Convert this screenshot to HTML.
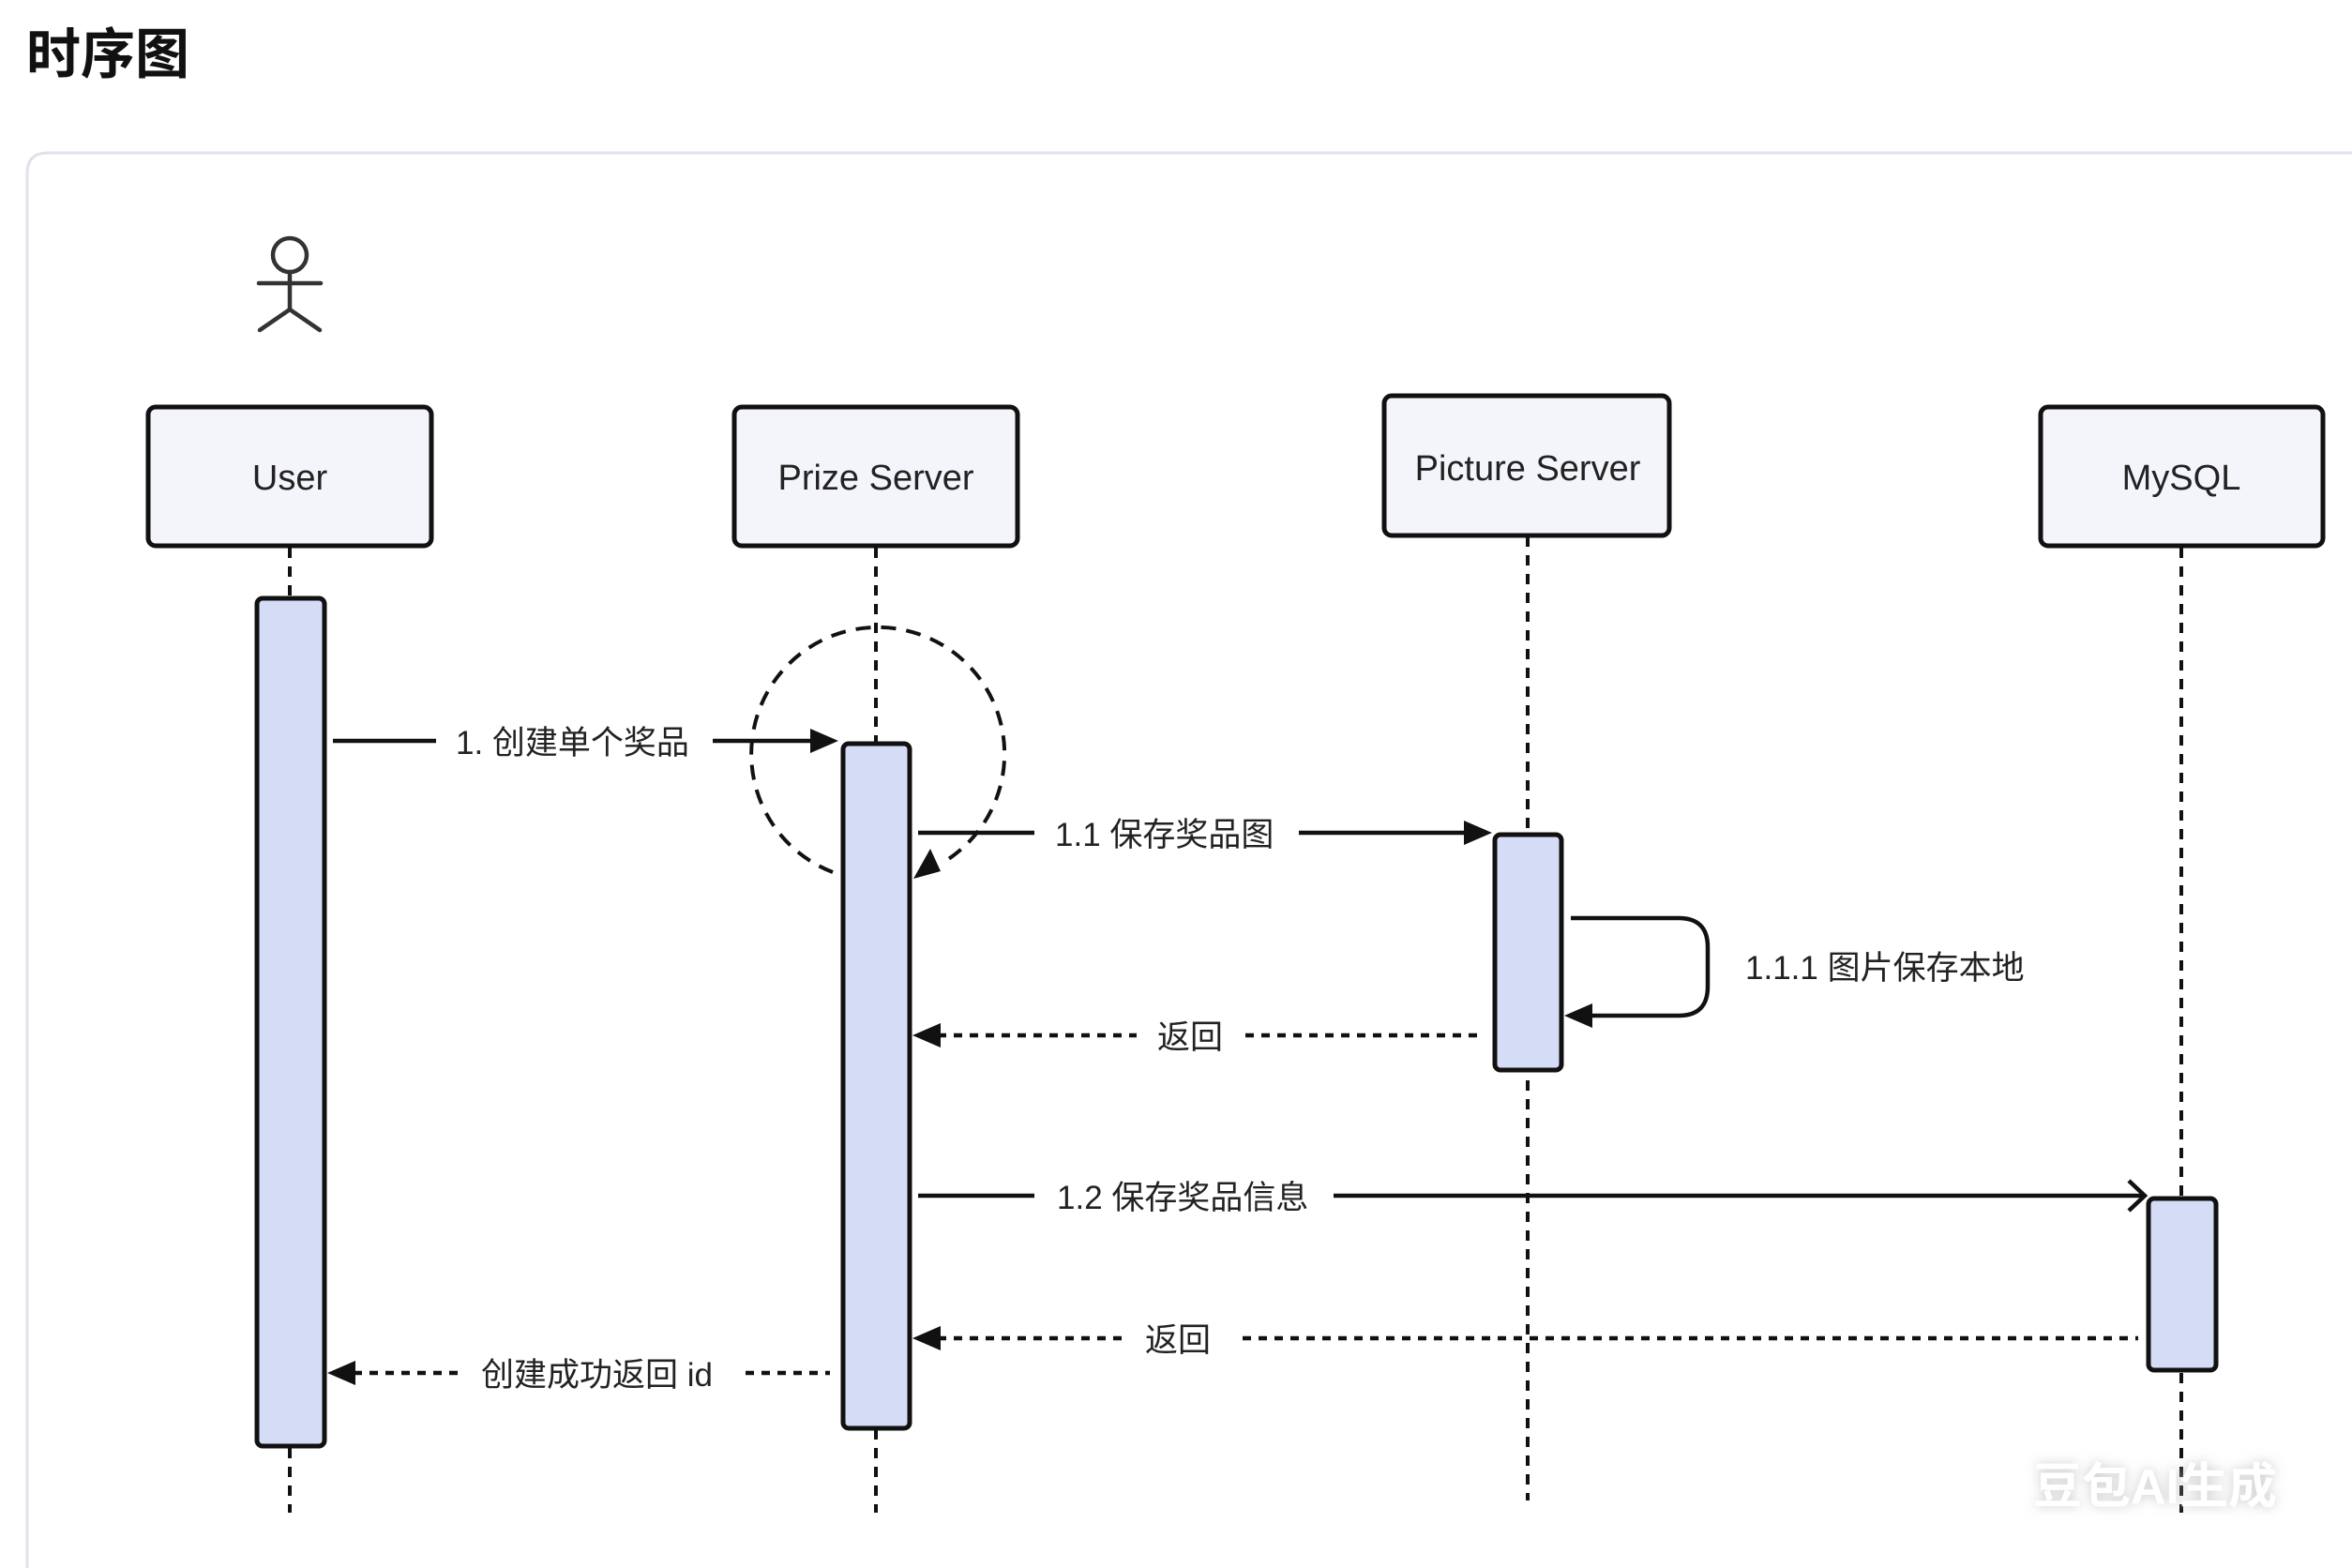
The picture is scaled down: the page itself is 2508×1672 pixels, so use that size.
<!DOCTYPE html>
<html><head><meta charset="utf-8"><style>
html,body{margin:0;padding:0;background:#fff;}
body{width:2508px;height:1672px;overflow:hidden;position:relative;font-family:"Liberation Sans","Noto Sans CJK SC",sans-serif;}
svg{position:absolute;left:0;top:0}
</style></head><body>
<svg width="2508" height="1672" viewBox="0 0 2508 1672" xmlns="http://www.w3.org/2000/svg">
<defs>
<filter id="sh" x="-20%" y="-50%" width="140%" height="200%"><feDropShadow dx="0" dy="0" stdDeviation="6" flood-color="#bbb" flood-opacity="0.8"/></filter>
</defs>
<text x="28" y="78" font-family="Liberation Sans,Noto Sans CJK SC,sans-serif" font-size="58" font-weight="bold" fill="#111">时序图</text>
<path d="M29 1672 V185 Q29 163 51 163 H2508" fill="none" stroke="#dfe2e8" stroke-width="3"/>
<g stroke="#111" stroke-width="4.5" fill="none" stroke-linecap="round">
<circle cx="309" cy="272" r="18" stroke="#333"/>
<line x1="309" y1="290" x2="309" y2="330" stroke="#333"/>
<line x1="276" y1="302" x2="342" y2="302" stroke="#333"/>
<line x1="309" y1="330" x2="277" y2="352" stroke="#333"/>
<line x1="309" y1="330" x2="341" y2="352" stroke="#333"/>
</g>
<g stroke="#111" stroke-width="4" stroke-dasharray="11 9">
<line x1="309" y1="584" x2="309" y2="1613"/>
<line x1="934" y1="584" x2="934" y2="1613"/>
<line x1="1629" y1="572" x2="1629" y2="1600"/>
<line x1="2326" y1="584" x2="2326" y2="1613"/>
</g>
<g stroke="#111" stroke-width="5" fill="#f4f5fb">
<rect x="158" y="434" width="302" height="148" rx="8"/>
<rect x="783" y="434" width="302" height="148" rx="8"/>
<rect x="1476" y="422" width="304" height="149" rx="8"/>
<rect x="2176" y="434" width="301" height="148" rx="8"/>
</g>
<g font-size="38" fill="#222" text-anchor="middle" font-family="Liberation Sans,sans-serif">
<text x="309" y="522">User</text>
<text x="934" y="522">Prize Server</text>
<text x="1629" y="512">Picture Server</text>
<text x="2326" y="522">MySQL</text>
</g>
<g stroke="#111" stroke-width="5" fill="#d5dcf6">
<rect x="274" y="638" width="72" height="904" rx="6"/>
<rect x="899" y="793" width="71" height="730" rx="6"/>
<rect x="1594" y="890" width="71" height="251" rx="6"/>
<rect x="2291" y="1278" width="72" height="183" rx="6"/>
</g>
<path d="M888 930 A135 135 0 1 1 1005 920" stroke="#111" stroke-width="4" fill="none" stroke-dasharray="16 11"/>
<polygon points="974,937 992,905 1003,929" fill="#111"/>
<g stroke="#111" stroke-width="4.5" fill="none">
<line x1="355" y1="790" x2="465" y2="790"/>
<line x1="760" y1="790" x2="870" y2="790"/>
<line x1="979" y1="888" x2="1103" y2="888"/>
<line x1="1385" y1="888" x2="1570" y2="888"/>
<path d="M1675 979 H1790 Q1821 979 1821 1010 V1052 Q1821 1083 1790 1083 H1690"/>
<line x1="979" y1="1275" x2="1103" y2="1275"/>
<line x1="1422" y1="1275" x2="2285" y2="1275"/>
<polyline points="2270,1259 2287,1275 2270,1291"/>
</g>
<g fill="#111">
<polygon points="894,790 864,777 864,803"/>
<polygon points="1591,888 1561,875 1561,901"/>
<polygon points="1668,1083 1698,1070 1698,1096"/>
<polygon points="973,1104 1003,1091 1003,1117"/>
<polygon points="973,1427 1003,1414 1003,1440"/>
<polygon points="349,1464 379,1451 379,1477"/>
</g>
<g stroke="#111" stroke-width="4.5" stroke-dasharray="9 8">
<line x1="1000" y1="1104" x2="1212" y2="1104"/>
<line x1="1328" y1="1104" x2="1581" y2="1104"/>
<line x1="1000" y1="1427" x2="1198" y2="1427"/>
<line x1="1325" y1="1427" x2="2280" y2="1427"/>
<line x1="377" y1="1464" x2="495" y2="1464"/>
<line x1="795" y1="1464" x2="885" y2="1464"/>
</g>
<g font-size="35" fill="#222" font-family="Liberation Sans,Noto Sans CJK SC,sans-serif">
<text x="486" y="804">1. 创建单个奖品</text>
<text x="1125" y="902">1.1 保存奖品图</text>
<text x="1861" y="1044">1.1.1 图片保存本地</text>
<text x="1234" y="1118">返回</text>
<text x="1127" y="1289">1.2 保存奖品信息</text>
<text x="1221" y="1441">返回</text>
<text x="513" y="1478">创建成功返回 id</text>
</g>
<text x="2168" y="1603" font-size="52" font-weight="bold" fill="#fff" filter="url(#sh)" font-family="Liberation Sans,Noto Sans CJK SC,sans-serif">豆包AI生成</text>
</svg>
</body></html>
